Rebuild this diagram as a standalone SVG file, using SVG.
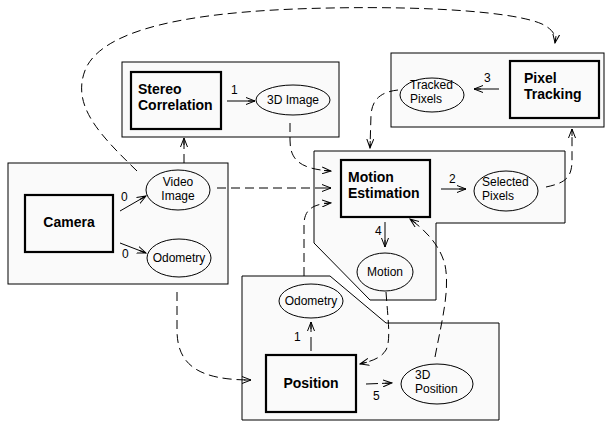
<svg xmlns="http://www.w3.org/2000/svg" width="606" height="422" viewBox="0 0 606 422">
<defs>
<marker id="ah" viewBox="0 0 10 8" refX="9" refY="4" markerWidth="10" markerHeight="8" markerUnits="userSpaceOnUse" orient="auto">
<path d="M0,0.5 L9,4 L0,7.5 M2,4 L9,4" fill="none" stroke="#000" stroke-width="1"/>
</marker>
</defs>
<style>
.cont{fill:#fafafa;stroke:#000;stroke-width:1}
.box{fill:#fafafa;stroke:#000;stroke-width:2.2}
.ell{fill:#fafafa;stroke:#000;stroke-width:1}
.bt{font-family:"Liberation Sans",Arial,sans-serif;font-weight:bold;font-size:14px;fill:#000}
.et{font-family:"Liberation Sans",Arial,sans-serif;font-size:12px;fill:#000}
.lb{font-family:"Liberation Sans",Arial,sans-serif;font-size:12px;fill:#000}
.ar{fill:none;stroke:#000;stroke-width:1;marker-end:url(#ah)}
.da{fill:none;stroke:#000;stroke-width:1;stroke-dasharray:9,5;marker-end:url(#ah)}
</style>
<rect width="606" height="422" fill="#fff"/>

<g id="camera-group">
<rect class="cont" x="8" y="163" width="220" height="121"/>
<g id="camera"><rect class="box" x="25" y="195" width="88" height="57"/>
<text class="bt" x="69" y="227" text-anchor="middle">Camera</text></g>
<g id="video-image"><ellipse class="ell" cx="178" cy="190" rx="32" ry="20"/>
<text class="et" x="178" y="186" text-anchor="middle">Video</text>
<text class="et" x="178" y="200" text-anchor="middle">Image</text></g>
<g id="odometry-cam"><ellipse class="ell" cx="179" cy="258" rx="32" ry="19"/>
<text class="et" x="179" y="262" text-anchor="middle">Odometry</text></g>
</g>

<g id="stereo-group">
<rect class="cont" x="122" y="62" width="217" height="75"/>
<g id="stereo-correlation"><rect class="box" x="131" y="72" width="90" height="57"/>
<text class="bt" x="138" y="94">Stereo</text>
<text class="bt" x="138" y="110">Correlation</text></g>
<g id="image-3d"><ellipse class="ell" cx="293" cy="100" rx="37" ry="15"/>
<text class="et" x="293" y="104" text-anchor="middle">3D Image</text></g>
</g>

<g id="tracking-group">
<rect class="cont" x="391" y="53" width="213" height="74"/>
<g id="pixel-tracking"><rect class="box" x="510" y="61" width="89" height="57"/>
<text class="bt" x="524" y="83">Pixel</text>
<text class="bt" x="524" y="99">Tracking</text></g>
<g id="tracked-pixels"><ellipse class="ell" cx="432" cy="95" rx="32" ry="17"/>
<text class="et" x="410" y="89">Tracked</text>
<text class="et" x="410" y="103">Pixels</text></g>
</g>

<g id="motion-group">
<polygon class="cont" points="314,151 565,151 565,223 436,223 436,300 370,300 314,243"/>
<g id="motion-estimation"><rect class="box" x="341" y="160" width="89" height="57"/>
<text class="bt" x="348" y="182">Motion</text>
<text class="bt" x="348" y="198">Estimation</text></g>
<g id="selected-pixels"><ellipse class="ell" cx="506" cy="191" rx="32" ry="20"/>
<text class="et" x="482" y="186">Selected</text>
<text class="et" x="482" y="200">Pixels</text></g>
<g id="motion"><ellipse class="ell" cx="385" cy="272" rx="28" ry="19"/>
<text class="et" x="385" y="276" text-anchor="middle">Motion</text></g>
</g>

<g id="position-group">
<polygon class="cont" points="242,276 330,276 386,323 499,323 499,420 242,420"/>
<g id="position"><rect class="box" x="266" y="355" width="90" height="57"/>
<text class="bt" x="311" y="388" text-anchor="middle">Position</text></g>
<g id="odometry-pos"><ellipse class="ell" cx="311" cy="301" rx="32" ry="17"/>
<text class="et" x="311" y="305" text-anchor="middle">Odometry</text></g>
<g id="position-3d"><ellipse class="ell" cx="437" cy="384" rx="36" ry="20"/>
<text class="et" x="415" y="379">3D</text>
<text class="et" x="415" y="393">Position</text></g>
</g>

<g id="connectors">
<line class="ar" x1="120" y1="211" x2="146" y2="196"/>
<text class="lb" x="121" y="201">0</text>
<line class="ar" x1="120" y1="243" x2="146" y2="253"/>
<text class="lb" x="122" y="258">0</text>
<line class="ar" x1="227" y1="101" x2="255" y2="101"/>
<text class="lb" x="231" y="94">1</text>
<line class="ar" x1="499" y1="89" x2="474" y2="89"/>
<text class="lb" x="484" y="82">3</text>
<line class="ar" x1="441" y1="189" x2="466" y2="189"/>
<text class="lb" x="449" y="183">2</text>
<line class="ar" x1="385" y1="222" x2="385" y2="247"/>
<text class="lb" x="375" y="235">4</text>
<line class="da" style="stroke-dasharray:14,5" x1="311" y1="351" x2="311" y2="322"/>
<text class="lb" x="294" y="341">1</text>
<line class="da" style="stroke-dasharray:12,4" x1="366" y1="384" x2="392" y2="383"/>
<text class="lb" x="373" y="400">5</text>

<path class="da" d="M137,171 C 100,135 70,105 86,68 C 108,22 220,10 330,8 C 430,6 515,12 542,24 C 554,30 556,36 555,43"/>
<path class="da" d="M184,163 L184,138"/>
<path class="da" d="M217,188 L331,188"/>
<path class="da" d="M290,123 L290,140 C 290,160 300,169 331,171"/>
<path class="da" d="M398,90 C 380,92 372,100 371,115 L370,148"/>
<path class="da" d="M546,187 C 565,183 572,178 572,160 L572,129"/>
<path class="da" d="M177,292 L177,330 C 177,366 200,380 251,380"/>
<path class="da" d="M304,276 L304,225 C 304,210 312,204 331,203"/>
<path class="da" d="M386,292 C 388,320 391,340 386,350 C 381,358 372,361 360,364"/>
<path class="da" d="M435,357 C 442,320 450,290 445,265 C 440,245 425,230 410,219"/>
</g>
</svg>
